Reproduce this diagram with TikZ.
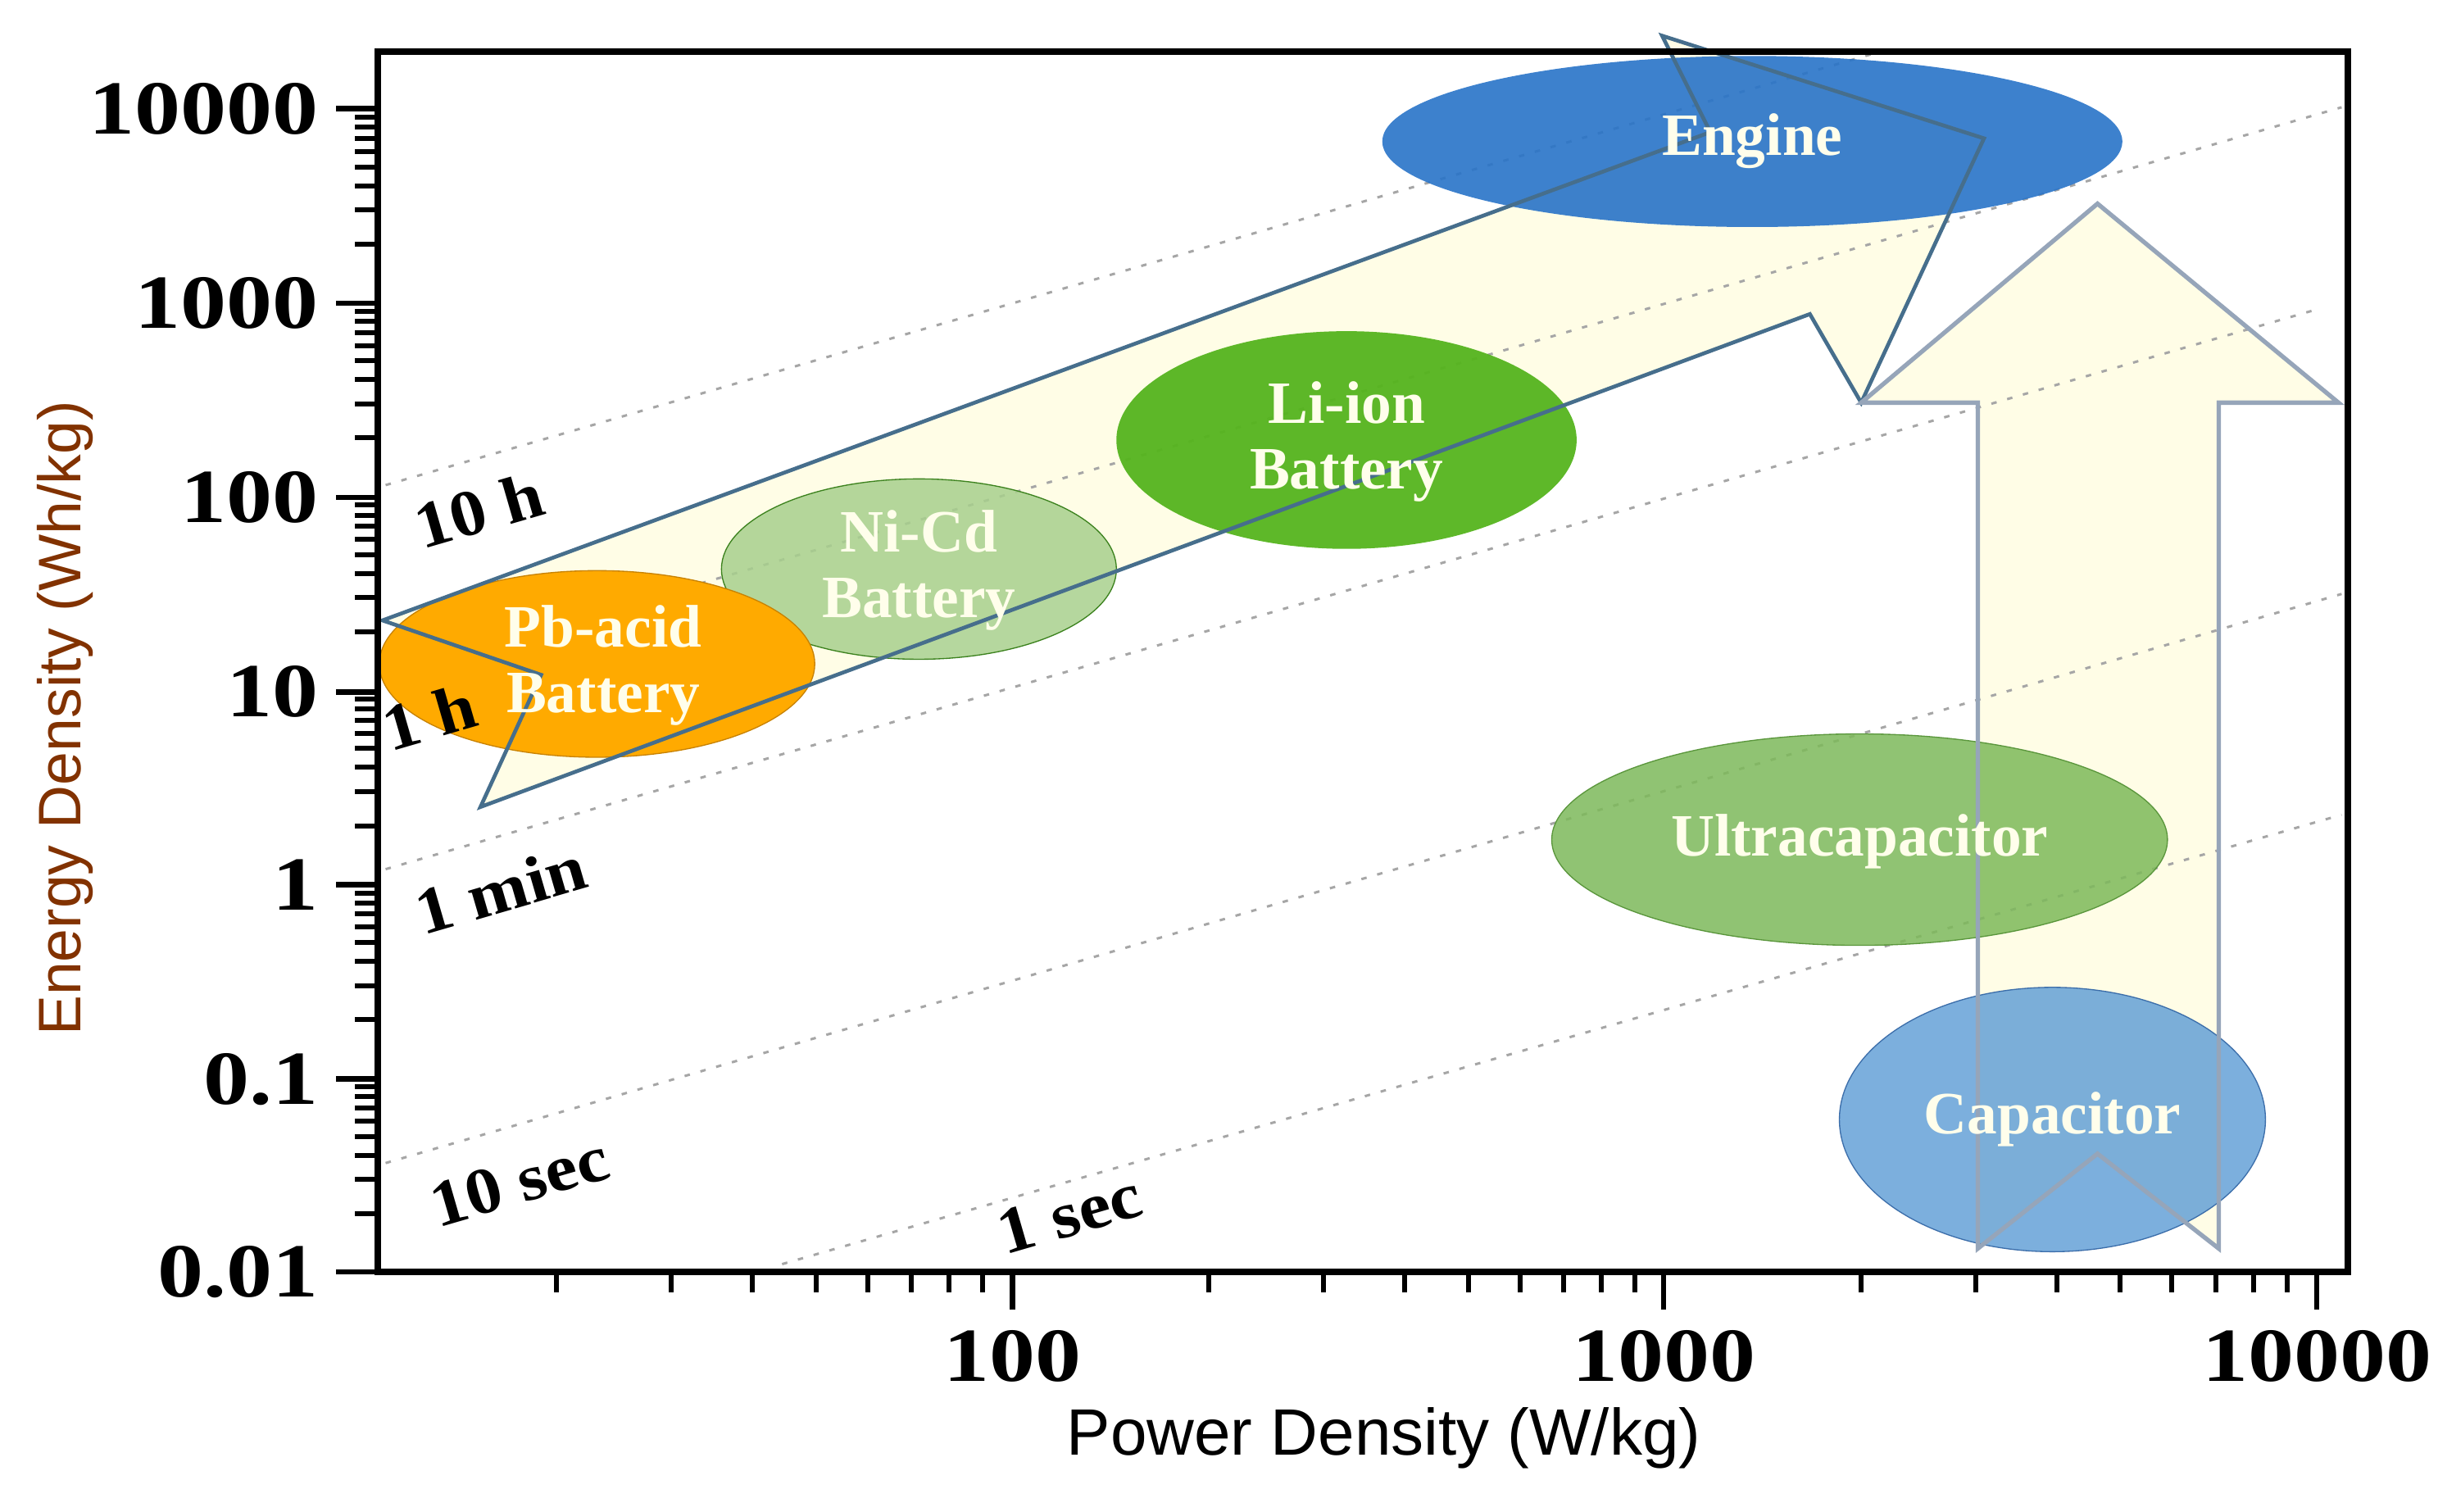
\documentclass[tikz,border=0pt]{standalone}
\usepackage{fontspec}
\setmainfont{Liberation Serif}
\newfontfamily\sansf{Liberation Sans}
\definecolor{engc}{RGB}{40,115,200}
\definecolor{lic}{RGB}{85,180,30}
\definecolor{nicd}{RGB}{60,130,30}
\definecolor{nicf}{RGB}{168,208,141}
\definecolor{pbd}{RGB}{200,130,0}
\definecolor{pbf}{RGB}{255,170,0}
\definecolor{ucd}{RGB}{90,150,60}
\definecolor{ucf}{RGB}{125,185,90}
\definecolor{capd}{RGB}{60,110,170}
\definecolor{capf}{RGB}{91,155,213}
\definecolor{arrd}{RGB}{70,110,140}
\definecolor{arrv}{RGB}{150,165,185}
\definecolor{ytc}{RGB}{130,50,0}
\definecolor{arrfill}{RGB}{255,253,230}
\begin{document}
\begin{tikzpicture}[x=0.02cm,y=-0.02cm,
  lbl/.style={font=\fontsize{24}{24}\selectfont\bfseries,text=black,rotate=16.2,xscale=1.1},
  tick/.style={font=\fontsize{28}{28}\selectfont\bfseries,xscale=1.2},
  elab/.style={font=\fontsize{22}{24}\selectfont\bfseries,text=yellow!8,align=center},
  tl/.style={gray!70,line width=0.9pt,dash pattern=on 2pt off 4pt},
]
\useasboundingbox (0,0) rectangle (1568,972);
% arrows fill
\coordinate (a1) at (246,399); \coordinate (a2) at (1100,85); \coordinate (a3) at (1069,23);
\coordinate (a4) at (1276,89); \coordinate (a5) at (1197,259); \coordinate (a6) at (1164,202);
\coordinate (a7) at (309,519); \coordinate (a8) at (348,434);
\fill[arrfill] (a1)--(a2)--(a3)--(a4)--(a5)--(a6)--(a7)--(a8)--cycle;
\coordinate (b1) at (1197,259); \coordinate (b2) at (1349,131); \coordinate (b3) at (1504,259);
\coordinate (b4) at (1427,259); \coordinate (b5) at (1427,803); \coordinate (b6) at (1349,742);
\coordinate (b7) at (1272,803); \coordinate (b8) at (1272,259);
\fill[arrfill] (b1)--(b2)--(b3)--(b4)--(b5)--(b6)--(b7)--(b8)--cycle;
% time lines
\draw[tl] (248,312) -- (1210,33);
\draw[tl] (248,434) -- (1506,69);
\draw[tl] (248,559) -- (1490,199);
\draw[tl] (248,748) -- (1506,382);
\draw[tl] (503,813) -- (1506,524);
% ellipses
\fill[engc,opacity=0.9] (1127,91) ellipse [x radius=238,y radius=55];
\fill[lic,opacity=0.95] (866,283) ellipse [x radius=148,y radius=70];
\draw[draw=nicd,fill=nicf,fill opacity=0.85] (591,366) ellipse [x radius=127,y radius=58];
\draw[draw=pbd,fill=pbf] (384,427) ellipse [x radius=140,y radius=60];
\draw[draw=ucd,fill=ucf,fill opacity=0.85] (1196,540) ellipse [x radius=198,y radius=68];
\draw[draw=capd,fill=capf,fill opacity=0.8] (1320,720) ellipse [x radius=137,y radius=85];
% arrow outlines
\draw[arrd,line width=1.4pt,line join=miter] (a1)--(a2)--(a3)--(a4)--(a5)--(a6)--(a7)--(a8)--cycle;
\draw[arrv,line width=1.6pt] (b1)--(b2)--(b3)--(b4)--(b5)--(b6)--(b7)--(b8)--cycle;
% ellipse labels
\node[elab] (eng) at (1127,91) {Engine};
\node[elab] (li) at (866,284) {Li-ion\\Battery};
\node[elab] (ni) at (591,367) {Ni-Cd\\Battery};
\node[elab] (pb) at (388,428) {Pb-acid\\Battery};
\node[elab] (uc) at (1196,541) {Ultracapacitor};
\node[elab] (cap) at (1320,720) {Capacitor};
% time labels
\node[lbl] (t1) at (308,328) {10 h};
\node[lbl] (t2) at (276,461) {1 h};
\node[lbl] (t3) at (322,572) {1 min};
\node[lbl] (t4) at (334,760) {10 sec};
\node[lbl] (t5) at (688,781) {1 sec};
% frame
\draw[line width=2.4pt] (243,33) rectangle (1510,818);
% y ticks
\foreach \y in {818,694,569,445,320,195,70}{
  \draw[line width=2pt] (243,\y) -- (216,\y);
}
\foreach \d in {0,...,6}{
  \foreach \k in {2,...,9}{
    \pgfmathsetmacro\yy{818-124.7*(\d+log10(\k))}
    \pgfmathparse{\yy>33?1:0}
    \ifnum\pgfmathresult=1 \draw[line width=1.8pt] (243,\yy) -- (228,\yy);\fi
  }
}
% x ticks
\foreach \x in {651,1070,1490}{\draw[line width=2pt] (\x,818) -- (\x,842);}
\foreach \d in {1,2,3}{
  \foreach \k in {2,...,9}{
    \pgfmathsetmacro\xx{651+419.5*(\d-2+log10(\k))}
    \pgfmathparse{(\xx>246)&&(\xx<1508)?1:0}
    \ifnum\pgfmathresult=1 \draw[line width=1.8pt] (\xx,818) -- (\xx,831);\fi
  }
}
% tick labels
\node[tick,anchor=east] (y1) at (212,818) {0.01};
\node[tick,anchor=east] (y2) at (212,694) {0.1};
\node[tick,anchor=east] (y3) at (212,569) {1};
\node[tick,anchor=east] (y4) at (212,445) {10};
\node[tick,anchor=east] (y5) at (212,320) {100};
\node[tick,anchor=east] (y6) at (212,195) {1000};
\node[tick,anchor=east] (y7) at (212,70) {10000};
\node[tick] (x1) at (651,872) {100};
\node[tick] (x2) at (1070,872) {1000};
\node[tick] (x3) at (1490,872) {10000};
% axis titles
\node[font=\sansf\fontsize{22}{22}\selectfont,text=ytc,rotate=90] (ytitle) at (42,462) {Energy Density (Wh/kg)};
\node[font=\sansf\fontsize{24}{24}\selectfont] (xtitle) at (890,925) {Power Density (W/kg)};
\end{tikzpicture}
\end{document}
